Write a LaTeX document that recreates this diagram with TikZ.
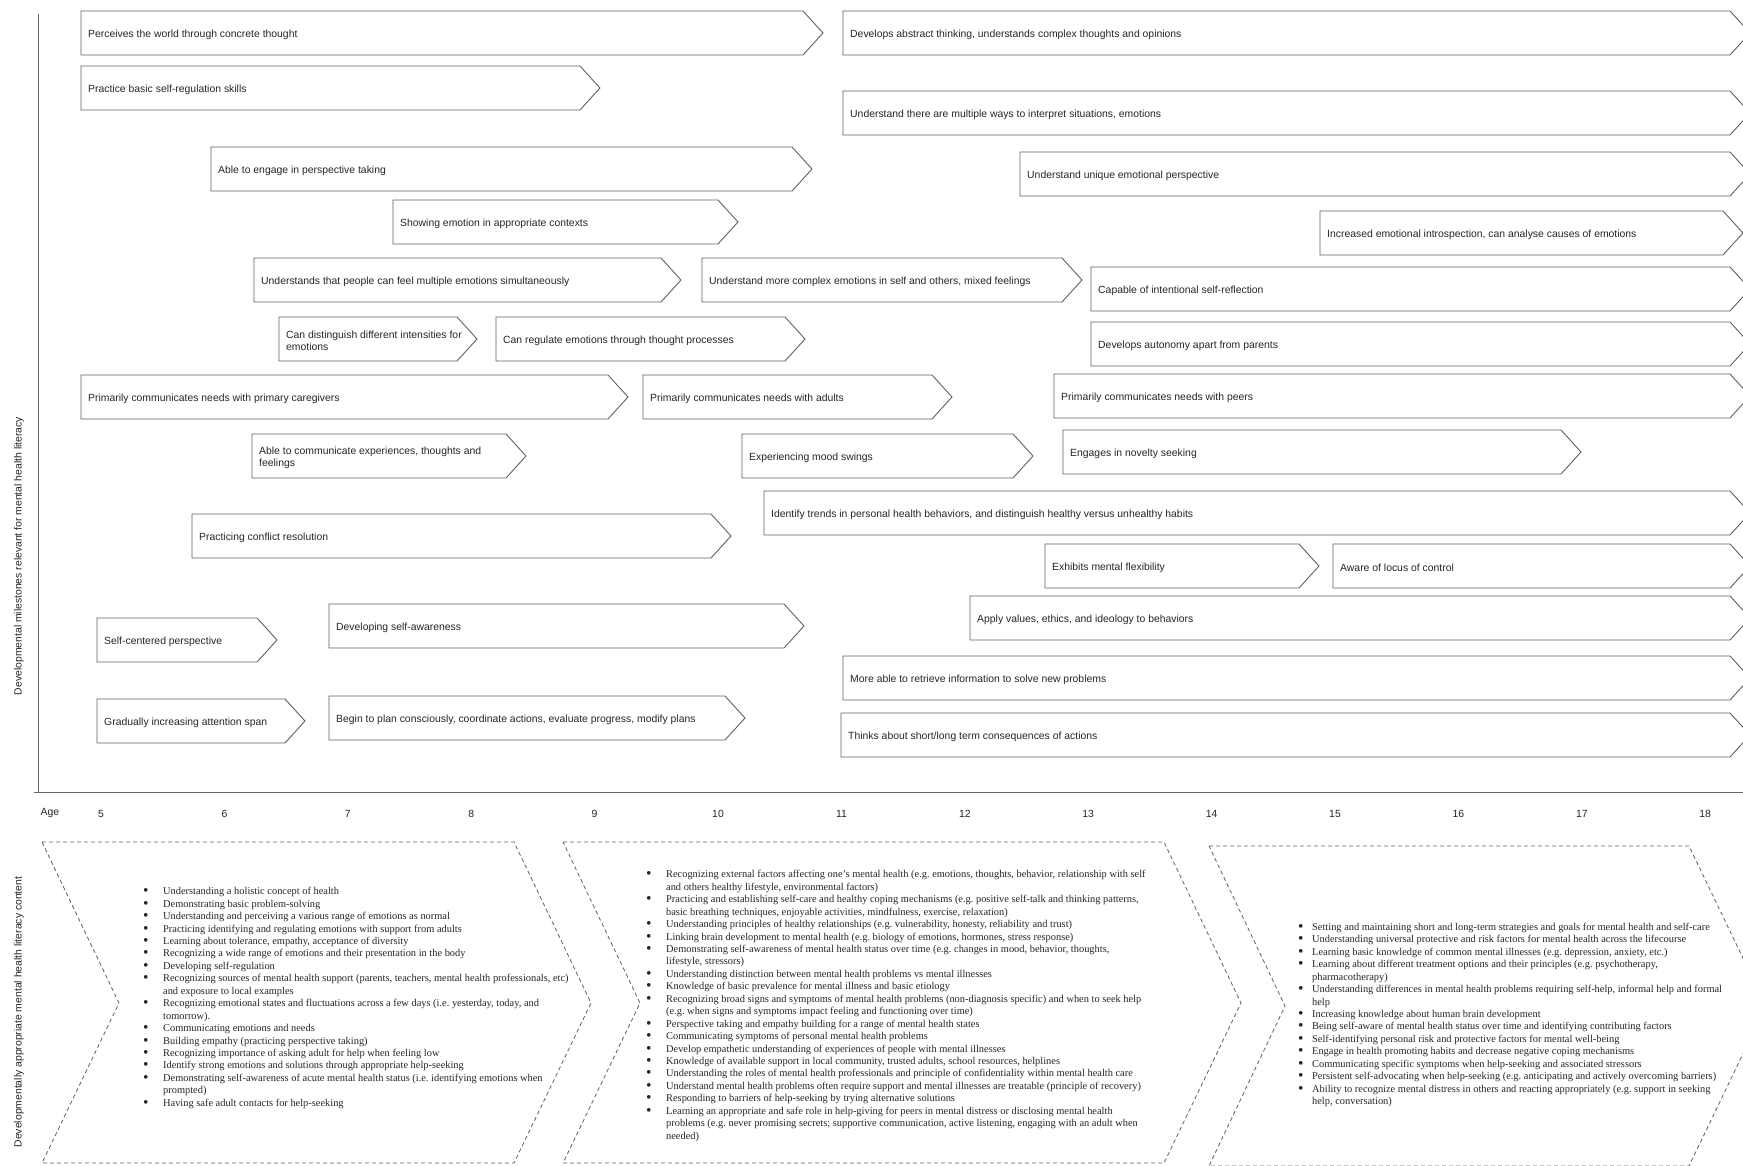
\documentclass[tikz,border=0pt]{standalone}
\usepackage{fontspec}
\setmainfont{Liberation Sans}
\newfontfamily\listfont{Liberation Serif}
\usetikzlibrary{positioning}
\tikzset{
	mbox/.style={draw=black!62, line width=0.9pt, fill=white},
	mtext/.style={anchor=west, inner sep=0pt, align=left, text=black!85, font=\fontsize{10.4}{12.2}\selectfont},
	chev/.style={draw=black!62, line width=0.8pt, dash pattern=on 4pt off 3pt},
	blist/.style={anchor=west, inner sep=0pt, text=black!85, font=\listfont\fontsize{10.4}{12.45}\selectfont},
	axislabel/.style={text=black!85, font=\fontsize{10.4}{12.2}\selectfont}
}
% milestone box: name, left, top, right, text
\newcommand{\milestone}[5]{%
	\draw[mbox] (#2,#3) -- (#4,#3) -- ++(20,22) -- (#4,#3+44) -- (#2,#3+44) -- cycle;
	\node[mtext] (#1) at (#2+7,#3+24) {#5};
}
\newcommand{\lbul}{\raisebox{-1pt}{\scalebox{1.5}{\textbullet}}}
\begin{document}
\frenchspacing
\begin{tikzpicture}[x=1pt, y=-1pt]
\clip (0,0) rectangle (1743,1165);
\fill[white] (0,0) rectangle (1743,1165);

% axes
\draw[black!60, line width=0.9pt] (38,14) -- (38,792);
\draw[black!60, line width=0.9pt] (34,792) -- (1743,792);
\node[axislabel, rotate=90] (ylab) at (19,556) {Developmental milestones relevant for mental health literacy};
\node[axislabel, rotate=90] (clab) at (19,1012) {Developmentally appropriate mental health literacy content};
\node[axislabel] (age) at (50,813) {Age};
\foreach \n in {5,...,18}
	\node[axislabel] (age\n) at ({101+123.4*(\n-5)},814) {\n};

% milestones
\milestone{m1}{81}{11}{803}{Perceives the world through concrete thought}
\milestone{m2}{843}{11}{1730}{Develops abstract thinking, understands complex thoughts and opinions}
\milestone{m3}{81}{66}{580}{Practice basic self-regulation skills}
\milestone{m4}{843}{91}{1730}{Understand there are multiple ways to interpret situations, emotions}
\milestone{m5}{211}{147}{792}{Able to engage in perspective taking}
\milestone{m6}{1020}{152}{1730}{Understand unique emotional perspective}
\milestone{m7}{393}{200}{718}{Showing emotion in appropriate contexts}
\milestone{m8}{1320}{211}{1723}{Increased emotional introspection, can analyse causes of emotions}
\milestone{m9}{254}{258}{661}{Understands that people can feel multiple emotions simultaneously}
\milestone{m10}{702}{258}{1062}{Understand more complex emotions in self and others, mixed feelings}
\milestone{m11}{1091}{267}{1730}{Capable of intentional self-reflection}
\milestone{m12}{279}{317}{457}{Can distinguish different intensities for\\emotions}
\milestone{m13}{496}{317}{785}{Can regulate emotions through thought processes}
\milestone{m14}{1091}{322}{1730}{Develops autonomy apart from parents}
\milestone{m15}{81}{375}{608}{Primarily communicates needs with primary caregivers}
\milestone{m16}{643}{375}{932}{Primarily communicates needs with adults}
\milestone{m17}{1054}{374}{1730}{Primarily communicates needs with peers}
\milestone{m18}{252}{434}{506}{Able to communicate experiences, thoughts and\\feelings}
\milestone{m19}{742}{434}{1013}{Experiencing mood swings}
\milestone{m20}{1063}{430}{1561}{Engages in novelty seeking}
\milestone{m21}{764}{491}{1730}{Identify trends in personal health behaviors, and distinguish healthy versus unhealthy habits}
\milestone{m22}{192}{514}{711}{Practicing conflict resolution}
\milestone{m23}{1045}{544}{1299}{Exhibits mental flexibility}
\milestone{m24}{1333}{544}{1730}{Aware of locus of control}
\milestone{m25}{970}{596}{1730}{Apply values, ethics, and ideology to behaviors}
\milestone{m26}{97}{618}{257}{Self-centered perspective}
\milestone{m27}{329}{604}{784}{Developing self-awareness}
\milestone{m28}{843}{656}{1730}{More able to retrieve information to solve new problems}
\milestone{m29}{97}{699}{285}{Gradually increasing attention span}
\milestone{m30}{329}{696}{725}{Begin to plan consciously, coordinate actions, evaluate progress, modify plans}
\milestone{m31}{841}{713}{1730}{Thinks about short/long term consequences of actions}

% literacy content
\draw[chev] (42,842) -- (514,842) -- (591,1003) -- (514,1163) -- (42,1163) -- (119,1003) -- cycle;
\draw[chev] (563,842) -- (1164,842) -- (1241,1003) -- (1164,1163) -- (563,1163) -- (640,1003) -- cycle;
\draw[chev] (1209,846) -- (1689,846) -- (1766,1006) -- (1689,1166) -- (1209,1166) -- (1285,1006) -- cycle;

\node[blist] (list1) at (143,998) {\begin{tabular}{@{}l@{\hspace{14.5pt}}l@{}}
\lbul & Understanding a holistic concept of health\\
\lbul & Demonstrating basic problem-solving\\
\lbul & Understanding and perceiving a various range of emotions as normal\\
\lbul & Practicing identifying and regulating emotions with support from adults\\
\lbul & Learning about tolerance, empathy, acceptance of diversity\\
\lbul & Recognizing a wide range of emotions and their presentation in the body\\
\lbul & Developing self-regulation\\
\lbul & Recognizing sources of mental health support (parents, teachers, mental health professionals, etc)\\
 & and exposure to local examples\\
\lbul & Recognizing emotional states and fluctuations across a few days (i.e. yesterday, today, and\\
 & tomorrow).\\
\lbul & Communicating emotions and needs\\
\lbul & Building empathy (practicing perspective taking)\\
\lbul & Recognizing importance of asking adult for help when feeling low\\
\lbul & Identify strong emotions and solutions through appropriate help-seeking\\
\lbul & Demonstrating self-awareness of acute mental health status (i.e. identifying emotions when\\
 & prompted)\\
\lbul & Having safe adult contacts for help-seeking
\end{tabular}};

\node[blist] (list2) at (646,1006) {\begin{tabular}{@{}l@{\hspace{14.5pt}}l@{}}
\lbul & Recognizing external factors affecting one’s mental health (e.g. emotions, thoughts, behavior, relationship with self\\
 & and others healthy lifestyle, environmental factors)\\
\lbul & Practicing and establishing self-care and healthy coping mechanisms (e.g. positive self-talk and thinking patterns,\\
 & basic breathing techniques, enjoyable activities, mindfulness, exercise, relaxation)\\
\lbul & Understanding principles of healthy relationships (e.g. vulnerability, honesty, reliability and trust)\\
\lbul & Linking brain development to mental health (e.g. biology of emotions, hormones, stress response)\\
\lbul & Demonstrating self-awareness of mental health status over time (e.g. changes in mood, behavior, thoughts,\\
 & lifestyle, stressors)\\
\lbul & Understanding distinction between mental health problems vs mental illnesses\\
\lbul & Knowledge of basic prevalence for mental illness and basic etiology\\
\lbul & Recognizing broad signs and symptoms of mental health problems (non-diagnosis specific) and when to seek help\\
 & (e.g. when signs and symptoms impact feeling and functioning over time)\\
\lbul & Perspective taking and empathy building for a range of mental health states\\
\lbul & Communicating symptoms of personal mental health problems\\
\lbul & Develop empathetic understanding of experiences of people with mental illnesses\\
\lbul & Knowledge of available support in local community, trusted adults, school resources, helplines\\
\lbul & Understanding the roles of mental health professionals and principle of confidentiality within mental health care\\
\lbul & Understand mental health problems often require support and mental illnesses are treatable (principle of recovery)\\
\lbul & Responding to barriers of help-seeking by trying alternative solutions\\
\lbul & Learning an appropriate and safe role in help-giving for peers in mental distress or disclosing mental health\\
 & problems (e.g. never promising secrets; supportive communication, active listening, engaging with an adult when\\
 & needed)
\end{tabular}};

\node[blist] (list3) at (1298,1015) {\begin{tabular}{@{}l@{\hspace{8.5pt}}l@{}}
\lbul & Setting and maintaining short and long-term strategies and goals for mental health and self-care\\
\lbul & Understanding universal protective and risk factors for mental health across the lifecourse\\
\lbul & Learning basic knowledge of common mental illnesses (e.g. depression, anxiety, etc.)\\
\lbul & Learning about different treatment options and their principles (e.g. psychotherapy,\\
 & pharmacotherapy)\\
\lbul & Understanding differences in mental health problems requiring self-help, informal help and formal\\
 & help\\
\lbul & Increasing knowledge about human brain development\\
\lbul & Being self-aware of mental health status over time and identifying contributing factors\\
\lbul & Self-identifying personal risk and protective factors for mental well-being\\
\lbul & Engage in health promoting habits and decrease negative coping mechanisms\\
\lbul & Communicating specific symptoms when help-seeking and associated stressors\\
\lbul & Persistent self-advocating when help-seeking (e.g. anticipating and actively overcoming barriers)\\
\lbul & Ability to recognize mental distress in others and reacting appropriately (e.g. support in seeking\\
 & help, conversation)
\end{tabular}};
\end{tikzpicture}
\end{document}
